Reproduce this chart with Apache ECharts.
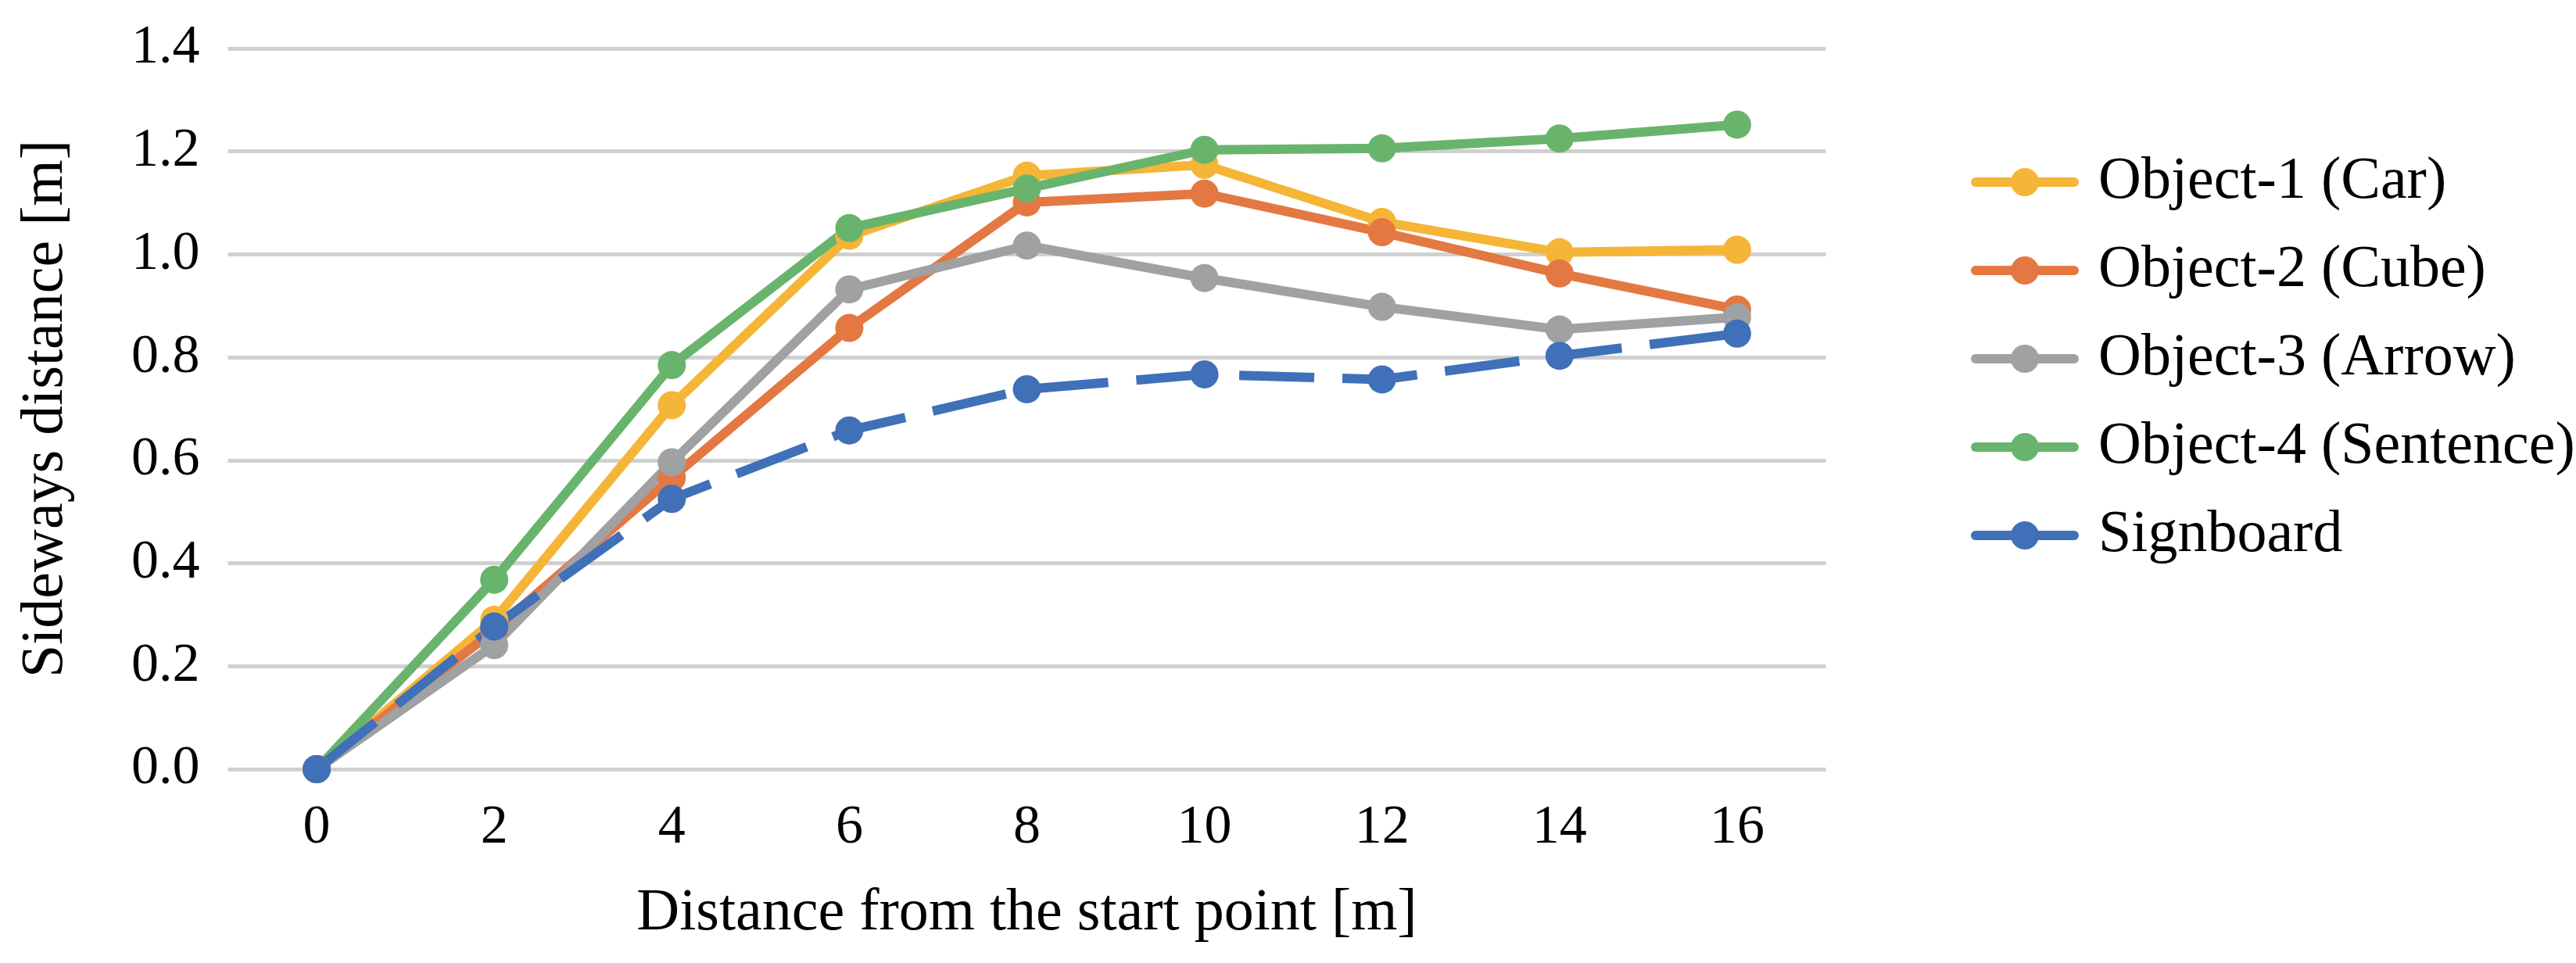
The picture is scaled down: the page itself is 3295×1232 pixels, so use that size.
<!DOCTYPE html>
<html>
<head>
<meta charset="utf-8">
<script src="https://cdn.jsdelivr.net/npm/echarts@6/dist/echarts.min.js"></script>
<style>
html,body{margin:0;padding:0;background:#fff;}
#chart{width:3295px;height:1232px;}
</style>
</head>
<body>
<div id="chart"></div>
<script>
const categories = ['0','2','4','6','8','10','12','14','16'];
const seriesNames = ['Object-1 (Car)','Object-2 (Cube)','Object-3 (Arrow)','Object-4 (Sentence)','Signboard'];
const object1 = [0, 0.290, 0.707, 1.036, 1.153, 1.174, 1.063, 1.004, 1.009];
const object2 = [0, 0.270, 0.566, 0.857, 1.101, 1.118, 1.043, 0.963, 0.893];
const object3 = [0, 0.241, 0.596, 0.932, 1.017, 0.954, 0.898, 0.854, 0.878];
const object4 = [0, 0.368, 0.785, 1.051, 1.128, 1.203, 1.206, 1.225, 1.252];
const signboard = [0, 0.277, 0.525, 0.658, 0.738, 0.767, 0.757, 0.803, 0.846];
const colors = ['#F5B536','#E47842','#A0A1A3','#69B46D','#3F70B8'];

const FONT = 'Liberation Serif';
const values = [object1, object2, object3, object4, signboard];

const chart = echarts.init(document.getElementById('chart'), null, {renderer:'canvas'});
const series = values.map((d, i) => ({
  name: seriesNames[i],
  type: 'line',
  data: d,
  symbol: 'circle',
  symbolSize: 36,
  showSymbol: true,
  lineStyle: {
    width: 12,
    color: colors[i],
    type: i === 4 ? [96, 36] : 'solid',
    cap: 'butt'
  },
  itemStyle: { color: colors[i], borderWidth: 0 },
  emphasis: { disabled: true },
  animation: false
}));

chart.setOption({
  backgroundColor: '#fff',
  animation: false,
  color: colors,
  textStyle: { fontFamily: FONT },
  grid: { left: 291.5, right: 959.5, top: 62, bottom: 248, containLabel: false },
  legend: {
    orient: 'vertical',
    left: 2516,
    top: 190,
    itemWidth: 126,
    itemHeight: 45,
    itemGap: 37,
    data: seriesNames,
    lineStyle: { width: 12, type: 'solid', cap: 'round' },
    itemStyle: { borderWidth: 0 },
    textStyle: {
      fontFamily: FONT,
      fontSize: 76,
      color: '#000',
      lineHeight: 76,
      padding: [0, 0, 0, 26]
    }
  },
  xAxis: {
    type: 'category',
    data: categories,
    boundaryGap: true,
    axisLine: { show: false },
    axisTick: { show: false },
    axisLabel: { fontFamily: FONT, fontSize: 70, color: '#000', margin: 41 },
    name: 'Distance from the start point [m]',
    nameLocation: 'middle',
    nameGap: 147,
    nameTextStyle: { fontFamily: FONT, fontSize: 76, color: '#000' }
  },
  yAxis: {
    type: 'value',
    min: 0,
    max: 1.4,
    interval: 0.2,
    axisLine: { show: false },
    axisTick: { show: false },
    splitLine: { show: true, lineStyle: { color: '#D0D0D0', width: 5 } },
    axisLabel: {
      fontFamily: FONT, fontSize: 70, color: '#000', margin: 36,
      formatter: v => v.toFixed(1)
    },
    name: 'Sideways distance [m]',
    nameLocation: 'middle',
    nameGap: 194,
    nameRotate: 90,
    nameTextStyle: { fontFamily: FONT, fontSize: 76, color: '#000' }
  },
  series: series
});
</script>
</body>
</html>
